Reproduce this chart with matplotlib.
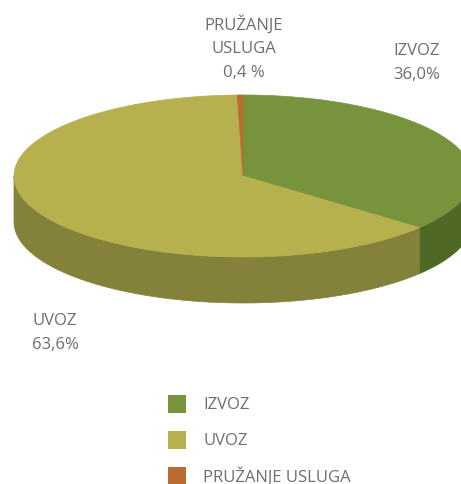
import numpy as np
import matplotlib.pyplot as plt
from matplotlib.patches import Polygon, Rectangle

# --- Data ---
categories = ["IZVOZ", "UVOZ", "PRUŽANJE USLUGA"]
shares = [36.0, 63.6, 0.4]
label_texts = ["IZVOZ\n36,0%", "UVOZ\n63,6%", "PRUŽANJE\nUSLUGA\n0,4 %"]

top_colors = ["#77933c", "#b6b04e", "#b86c30"]
side_colors = ["#4f6823", "#84813a", "#8a4f22"]
text_color = "#6e6e6e"

plt.rcParams["font.family"] = ["Open Sans", "DejaVu Sans"]

# --- Geometry of the pie (pixels) ---
W, H = 461, 485
cx, cy = 243, 177
rx, ry = 229, 81
depth = 46


def pt(a):
    # a: degrees clockwise from 12 o'clock
    r = np.radians(a)
    return cx + rx * np.sin(r), cy - ry * np.cos(r)


fig = plt.figure(figsize=(W / 100, H / 100), dpi=100)
ax = fig.add_axes([0, 0, 1, 1])
ax.set_xlim(0, W)
ax.set_ylim(H, 0)
ax.axis("off")

fracs = np.array(shares) / sum(shares)
starts = np.concatenate([[0], np.cumsum(fracs)[:-1]]) * 360
ends = np.cumsum(fracs) * 360

# side walls (front half only: 90..270 deg)
for s, e, c in zip(starts, ends, side_colors):
    lo, hi = max(s, 90), min(e, 270)
    if hi <= lo:
        continue
    a = np.linspace(lo, hi, 100)
    xs, ys = pt(a)
    verts = list(zip(xs, ys)) + list(zip(xs[::-1], ys[::-1] + depth))
    ax.add_patch(Polygon(verts, closed=True, facecolor=c, edgecolor=c, lw=0.5))

# top face
for s, e, c in zip(starts, ends, top_colors):
    a = np.linspace(s, e, 200)
    xs, ys = pt(a)
    verts = [(cx, cy)] + list(zip(xs, ys))
    ax.add_patch(Polygon(verts, closed=True, facecolor=c, edgecolor=c, lw=0.5))

# --- Data labels ---
fs = 12
ax.text(417, 63, label_texts[0], ha="center", va="center", fontsize=fs,
        color=text_color, linespacing=1.6)
ax.text(32, 333, label_texts[1], ha="left", va="center", fontsize=fs,
        color=text_color, linespacing=1.6)
ax.text(244, 48, label_texts[2], ha="center", va="center", fontsize=fs,
        color=text_color, linespacing=1.6)

# --- Legend ---
for i, (name, c) in enumerate(zip(categories, top_colors)):
    y = 405 + i * 36
    ax.add_patch(Rectangle((168, y - 9), 18, 18, facecolor=c, edgecolor="none"))
    ax.text(203, y, name, ha="left", va="center", fontsize=fs, color=text_color)

fig.savefig("out.png", dpi=100)
